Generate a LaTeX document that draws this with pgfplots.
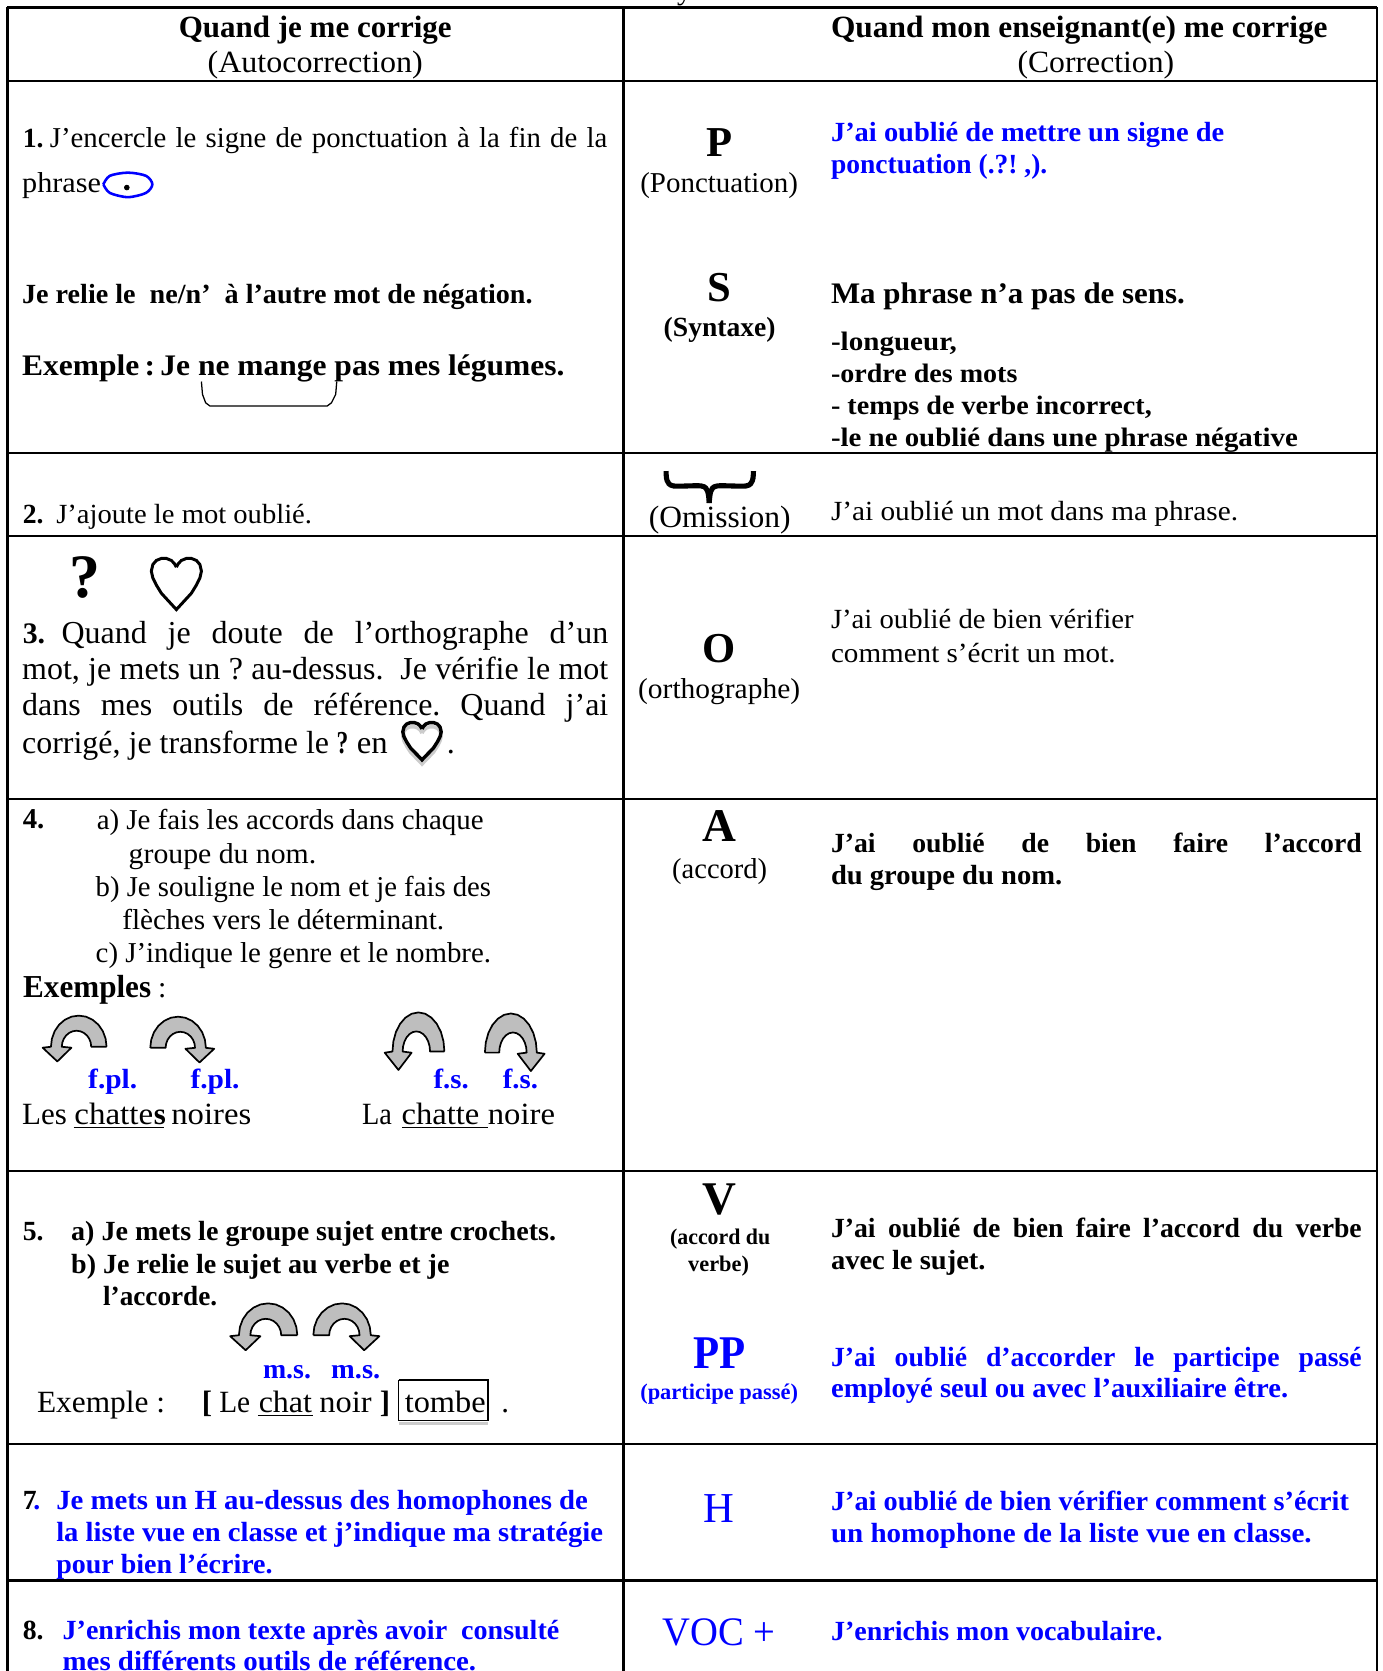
\documentclass[border=0pt]{standalone}
\usepackage{fontspec}
\setmainfont{Liberation Serif}
\usepackage{graphicx}
\usepackage{pgfplots}
\usepackage{pgfplotstable}
\pgfplotsset{compat=1.18}
\frenchspacing

\definecolor{blu}{RGB}{0,0,255}
\definecolor{arrowgray}{RGB}{190,190,190}
\def\un{0.5pt}
\newcommand{\sz}[1]{\fontsize{#1}{#1}\selectfont}
\newcommand{\bl}{\color{blu}\bfseries}
\newcommand{\bb}{\bfseries}

% text line squeezed to x1..x2: x1, x2, baseline, font, text
\newcommand{\Lt}[5]{\node[anchor=base west,inner sep=0pt] at (axis cs:#1-0.6,#3+0.8)
  {\pgfmathsetlengthmacro\lw{(#2-#1)*\un}\resizebox{\lw}{\height}{#4#5}};}
% justified line (spaces stretch)
\newcommand{\Jt}[5]{\node[anchor=base west,inner sep=0pt] at (axis cs:#1-0.6,#3+0.8)
  {\pgfmathsetlengthmacro\lw{(#2-#1)*\un}\makebox[\lw][s]{#4#5}};}
% free text at x: x, baseline, font, text
\newcommand{\Ft}[4]{\node[anchor=base west,inner sep=0pt] at (axis cs:#1,#2+0.8) {#3#4};}
% centred text
\newcommand{\Ct}[4]{\node[anchor=base,inner sep=0pt] at (axis cs:#1,#2+0.8) {#3#4};}
% curved arrow: x0, y0, w, h
\newcommand{\Arr}[4]{\addplot[fill=arrowgray,draw=black,line width=0.8pt,line join=round]
  table[x expr=#1+\thisrow{u}*(#3),y expr=#2+\thisrow{v}*(#4)] {\arrowtab};}
\newcommand{\Hrt}[5]{\addplot[#5,line join=miter]
  table[x expr=#1+\thisrow{u}*(#3),y expr=#2+\thisrow{v}*(#4)] {\hearttab};}
\newcommand{\Hl}[1]{\addplot[black,line width=1pt] coordinates {(7,#1) (1292,#1)};}
\newcommand{\Ul}[3]{\addplot[black,line width=0.6pt] coordinates {(#1,#3) (#2,#3)};}

\pgfplotstableread{
u v
0 .68
.015 .504
.058 .34
.127 .199
.218 .091
.322 .023
.435 0
.548 .023
.653 .091
.743 .199
.812 .34
.855 .504
.87 .68
1 .70
.77 1
.55 .70
.70 .68
.692 .589
.669 .505
.633 .433
.585 .377
.53 .342
.47 .33
.41 .342
.355 .377
.307 .433
.271 .505
.248 .589
.24 .68
0 .68
}\arrowtab

\pgfplotstableread{
u v
.5 .17
.46 .10
.40 .04
.3 0
.2 0
.1 .04
.03 .12
0 .25
.03 .38
.1 .52
.2 .68
.5 1
.8 .68
.9 .52
.97 .38
1 .25
.97 .12
.9 .04
.8 0
.7 0
.6 .04
.54 .10
.5 .17
}\hearttab

\begin{document}
\begin{tikzpicture}
\useasboundingbox (0,0) rectangle (648.5pt,784pt);
\clip (0,0) rectangle (648.5pt,784pt);
\begin{axis}[
    hide axis, scale only axis,
    width=648.5pt, height=784pt,
    xmin=0, xmax=1297, ymin=0, ymax=1568,
    y dir=reverse, clip=false
]
% table rules
\Hl{7}\Hl{76}\Hl{425}\Hl{503}\Hl{750}\Hl{1099}\Hl{1355}\Hl{1483}
\addplot[black,line width=1pt] coordinates {(7,7) (7,1568)};
\addplot[black,line width=1pt] coordinates {(585,7) (585,1568)};
\addplot[black,line width=1pt] coordinates {(1292,7) (1292,1568)};

\Ft{635}{-1}{\sz{14}}{y}

% header
\Lt{168}{424}{34}{\sz{14.5}\bb}{Quand je me corrige}
\Lt{195}{397}{67}{\sz{14.5}}{(Autocorrection)}
\Lt{780}{1246}{34}{\sz{14.5}\bb}{Quand mon enseignant(e) me corrige}
\Lt{955}{1102}{67}{\sz{14.5}}{(Correction)}

% row 1 left
\Ft{21}{138}{\sz{13}\bb}{1.}
\Jt{47}{570}{138}{\sz{13.5}}{J’encercle le signe de ponctuation à la fin de la}
\Lt{21}{95}{180}{\sz{13.5}}{phrase}
\addplot[blu,line width=1.2pt,smooth] coordinates {(97,173) (103,165) (120,162) (137,165) (143,173) (137,181) (120,185) (103,181) (97,173)};
\addplot[black,only marks,mark=*,mark size=1.1pt] coordinates {(119,176)};
\Lt{21}{500}{284}{\sz{13}\bb}{Je relie le\ \ ne/n’\ \ à l’autre mot de négation.}
\Lt{21}{530}{352}{\sz{14}\bb}{Exemple\,:\,Je ne mange pas mes légumes.}
\addplot[black,line width=0.6pt] coordinates {(189,358) (190,370) (193,378) (197,381) (307,381) (311,378) (315,370) (316,358)};

% row 1 right
\Ct{675}{146}{\sz{20}\bb}{P}
\Lt{601}{749}{180}{\sz{13.5}}{(Ponctuation)}
\Lt{780}{1149}{132}{\sz{13}\bl}{J’ai oublié de mettre un signe de}
\Lt{780}{983}{162}{\sz{13}\bl}{ponctuation (.?! ,).}
\Ct{675}{282}{\sz{20}\bb}{S}
\Lt{623}{728}{315}{\sz{13}\bb}{(Syntaxe)}
\Lt{780}{1112}{284}{\sz{14}\bb}{Ma phrase n’a pas de sens.}
\Lt{780}{898}{328}{\sz{12.5}\bb}{-longueur,}
\Lt{780}{955}{358}{\sz{12.5}\bb}{-ordre des mots}
\Lt{780}{1081}{388}{\sz{12.5}\bb}{- temps de verbe incorrect,}
\Lt{780}{1218}{418}{\sz{12.5}\bb}{-le ne oublié dans une phrase négative}

% row 2
\Ft{21}{490}{\sz{13}\bb}{2.}
\Lt{53}{293}{490}{\sz{13}}{J’ajoute le mot oublié.}
\addplot[black,line width=2.4pt,smooth] coordinates {(625,442) (626,451) (632,456) (658,456) (664,461) (665.5,472)};
\addplot[black,line width=2.4pt,smooth] coordinates {(707,442) (706,451) (700,456) (673,456) (667,461) (665.5,472)};
\Lt{609}{742}{494}{\sz{14.5}}{(Omission)}
\Lt{780}{1162}{488}{\sz{13}}{J’ai oublié un mot dans ma phrase.}

% row 3 left
\Ct{80}{560}{\sz{29}\bb}{?}
\Hrt{142}{524}{47}{48}{black,line width=1.4pt}
\Ft{21}{603}{\sz{14}\bb}{3.}
\Jt{58}{571}{603}{\sz{15}}{Quand je doute de l’orthographe d’un}
\Jt{21}{571}{637}{\sz{15}}{mot, je mets un ? au-dessus.\ \ Je vérifie le mot}
\Jt{21}{571}{671}{\sz{15}}{dans mes outils de référence. Quand j’ai}
\Lt{21}{309}{706}{\sz{15}}{corrigé, je transforme le}
\Lt{316}{327}{706}{\sz{15}\bb}{?}
\Lt{335}{364}{706}{\sz{15}}{en}
\Hrt{378}{682}{36}{35}{black!20,line width=1.6pt}
\Hrt{378}{678}{36}{35}{black,line width=1.6pt}
\Ft{419}{706}{\sz{15}}{.}

% row 3 right
\Ct{675}{621}{\sz{20}\bb}{O}
\Lt{599}{751}{655}{\sz{13.5}}{(orthographe)}
\Lt{780}{1064}{589}{\sz{13}}{J’ai oublié de bien vérifier}
\Lt{780}{1047}{621}{\sz{13}}{comment s’écrit un mot.}

% row 4 left
\Ft{21}{777}{\sz{13.5}\bb}{4.}
\Lt{91}{454}{778}{\sz{13.5}}{a) Je fais les accords dans chaque}
\Lt{121}{297}{809}{\sz{13.5}}{groupe du nom.}
\Lt{90}{461}{840}{\sz{13.5}}{b) Je souligne le nom et je fais des}
\Lt{115}{417}{871}{\sz{13.5}}{flèches vers le déterminant.}
\Lt{90}{461}{902}{\sz{13.5}}{c) J’indique le genre et le nombre.}
\Lt{22}{142}{935}{\sz{15}\bb}{Exemples}
\Ft{148}{935}{\sz{14}}{:}
\Arr{100}{953}{-60}{43}
\Arr{141}{954}{60}{43}
\Arr{417}{950}{-56}{54}
\Arr{455}{951}{56}{54}
\Lt{83}{129}{1021}{\sz{13}\bl}{f.pl.}
\Lt{179}{225}{1021}{\sz{13}\bl}{f.pl.}
\Lt{407}{440}{1021}{\sz{13}\bl}{f.s.}
\Lt{472}{505}{1021}{\sz{13}\bl}{f.s.}
\Lt{21}{63}{1054}{\sz{14.5}}{Les}
\Lt{70}{144}{1054}{\sz{14.5}}{chatte}
\Ft{144}{1054}{\sz{14.5}\bb}{s}
\Lt{161}{236}{1054}{\sz{14.5}}{noires}
\Ul{69}{154}{1058}
\Lt{340}{368}{1054}{\sz{14.5}}{La}
\Lt{377}{450}{1054}{\sz{14.5}}{chatte}
\Lt{458}{521}{1054}{\sz{14.5}}{noire}
\Ul{377}{458}{1058}

% row 4 right
\Ct{675}{789}{\sz{22}\bb}{A}
\Lt{631}{720}{824}{\sz{13.5}}{(accord)}
\Jt{780}{1278}{799}{\sz{13}\bb}{J’ai oublié de bien faire l’accord}
\Lt{780}{997}{829}{\sz{13}\bb}{du groupe du nom.}

% row 5 left
\Ft{21}{1163}{\sz{13}\bb}{5.}
\Lt{67}{522}{1163}{\sz{13}\bb}{a) Je mets le groupe sujet entre crochets.}
\Lt{67}{422}{1194}{\sz{13}\bb}{b) Je relie le sujet au verbe et je}
\Lt{97}{204}{1224}{\sz{13}\bb}{l’accorde.}
\Arr{279}{1223}{-63}{44}
\Arr{294}{1223}{62}{44}
\Lt{247}{292}{1293}{\sz{13}\bl}{m.s.}
\Lt{311}{357}{1293}{\sz{13}\bl}{m.s.}
\Lt{35}{155}{1325}{\sz{14.5}}{Exemple :}
\Ft{189}{1325}{\sz{14.5}\bb}{[}
\Lt{206}{235}{1325}{\sz{14.5}}{Le}
\Lt{243}{293}{1325}{\sz{14.5}}{chat}
\Ul{242}{294}{1328}
\Lt{300}{349}{1325}{\sz{14.5}}{noir}
\Ft{356}{1325}{\sz{14.5}\bb}{]}
\addplot[black!20,line width=1.2pt] coordinates {(374,1336) (458,1336)};
\addplot[black,line width=0.8pt] coordinates {(374,1295) (458,1295) (458,1333) (374,1333) (374,1295)};
\Lt{380}{456}{1325}{\sz{14.5}}{tombe}
\Ft{470}{1325}{\sz{14.5}}{.}

% row 5 right
\Ct{675}{1139}{\sz{22}\bb}{V}
\Lt{629}{723}{1167}{\sz{10.5}\bb}{(accord du}
\Lt{646}{703}{1192}{\sz{10.5}\bb}{verbe)}
\Jt{780}{1278}{1160}{\sz{13}\bb}{J’ai oublié de bien faire l’accord du verbe}
\Lt{780}{925}{1190}{\sz{13}\bb}{avec le sujet.}
\Lt{651}{700}{1283}{\sz{22}\bl}{PP}
\Lt{601}{749}{1312}{\sz{10.5}\bl}{(participe passé)}
\Jt{780}{1278}{1281}{\sz{13}\bl}{J’ai oublié d’accorder le participe passé}
\Lt{780}{1209}{1311}{\sz{13}\bl}{employé seul ou avec l’auxiliaire être.}

% row 7
\Ft{21}{1416}{\sz{13}\bb}{7}
\Ft{31}{1416}{\sz{13}\bl}{.}
\Lt{53}{552}{1416}{\sz{13}\bl}{Je mets un H au-dessus des homophones de}
\Lt{53}{566}{1446}{\sz{13}\bl}{la liste vue en classe et j’indique ma stratégie}
\Lt{53}{256}{1476}{\sz{13}\bl}{pour bien l’écrire.}
\Ct{675}{1428}{\sz{20}\color{blu}}{H}
\Lt{780}{1266}{1417}{\sz{13}\bl}{J’ai oublié de bien vérifier comment s’écrit}
\Lt{780}{1231}{1447}{\sz{13}\bl}{un homophone de la liste vue en classe.}

% row 8
\Ft{21}{1538}{\sz{13}\bb}{8.}
\Lt{59}{525}{1538}{\sz{13}\bl}{J’enrichis mon texte après avoir\ \ consulté}
\Lt{59}{447}{1567}{\sz{13}\bl}{mes différents outils de référence.}
\Lt{622}{728}{1543}{\sz{19}\color{blu}}{VOC +}
\Lt{780}{1091}{1539}{\sz{13}\bl}{J’enrichis mon vocabulaire.}
\end{axis}
\end{tikzpicture}
\end{document}
